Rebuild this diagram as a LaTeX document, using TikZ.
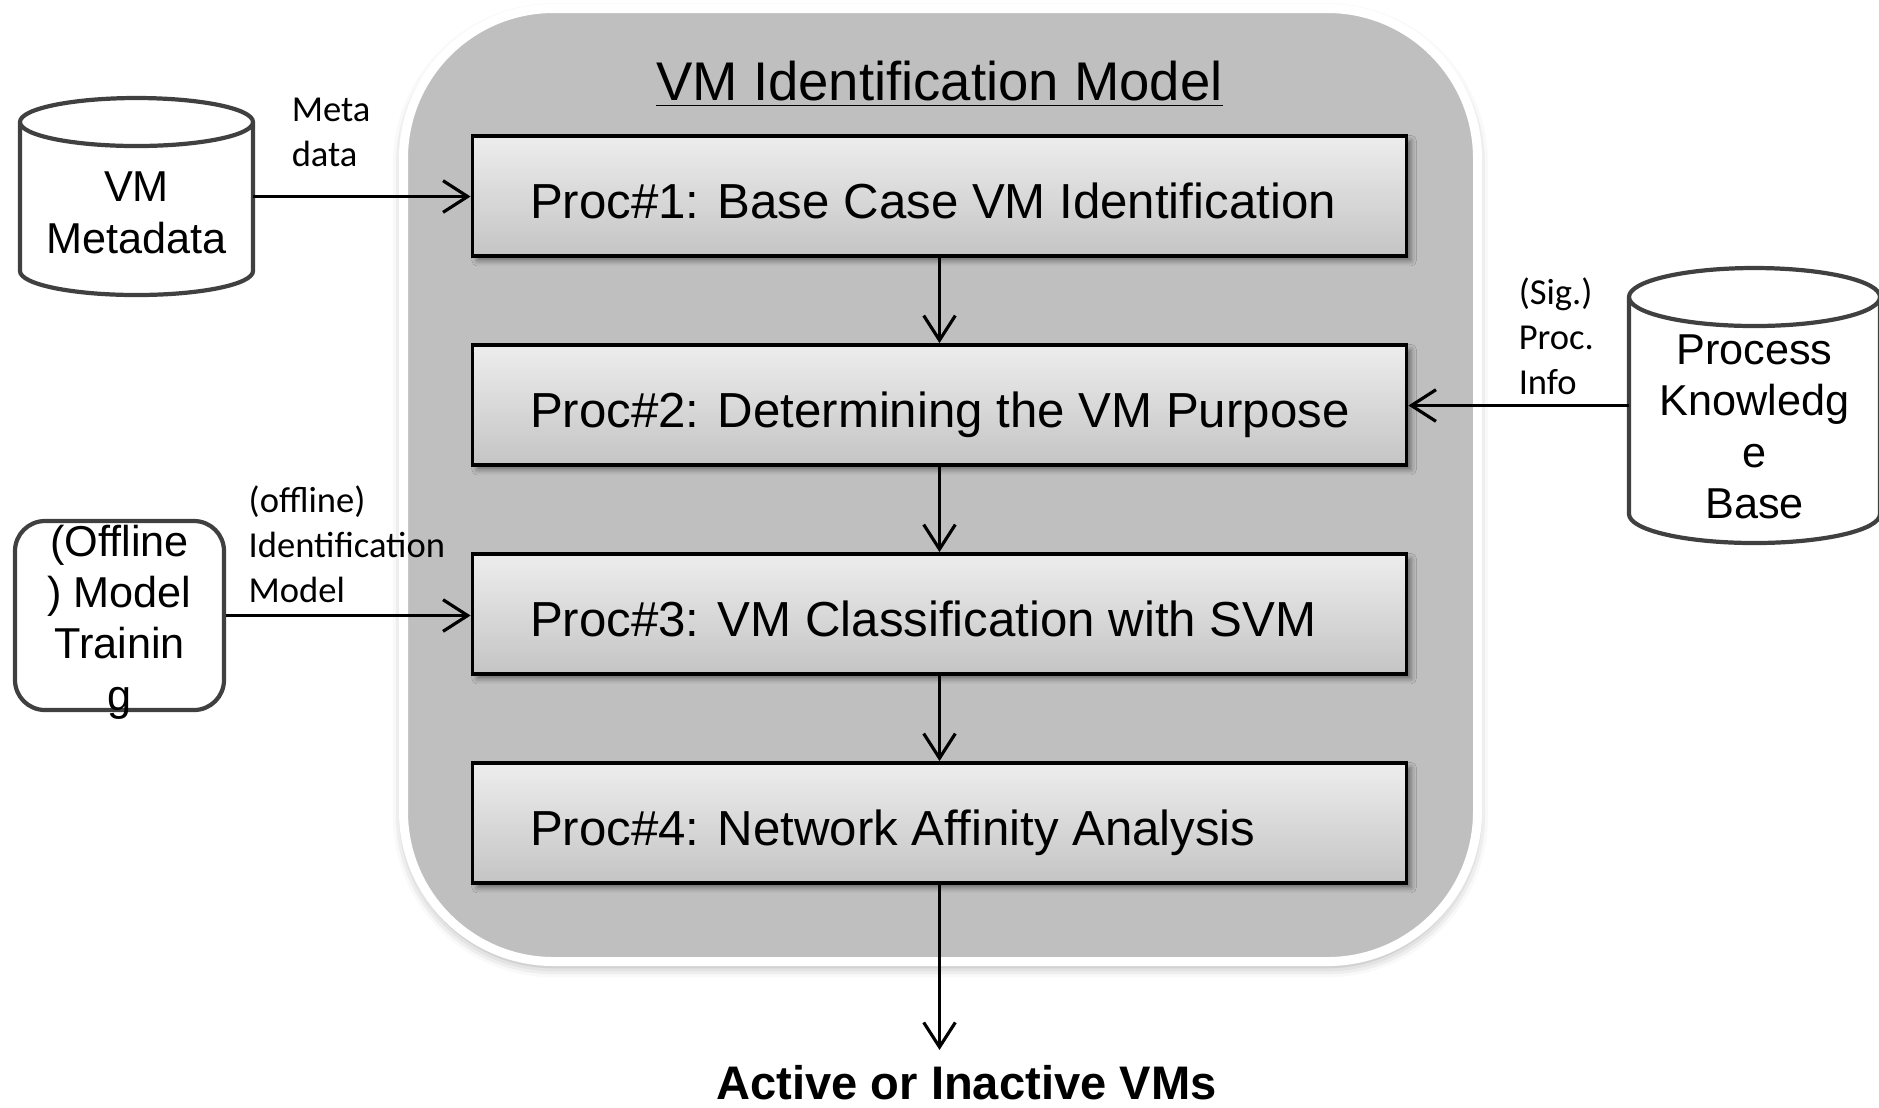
\documentclass[tikz,border=0pt]{standalone}
\usepackage{fontspec}
\setmainfont{Liberation Sans}
\newfontfamily\lblfont{Carlito}
\usetikzlibrary{positioning,arrows.meta,shadows.blur}

\begin{document}
\begin{tikzpicture}[
        proc/.style={draw=black, line width=1.1pt, top color=black!7, bottom color=black!23,
            minimum width=9.34cm, minimum height=1.2cm, inner xsep=0.575cm,
            text height=0.44cm, text depth=0pt, font=\fontsize{14}{17}\selectfont,
            blur shadow={shadow xshift=1.3pt, shadow yshift=-1.3pt, shadow blur radius=1.5pt, shadow opacity=45}},
        store/.style={inner sep=0pt, outer sep=0pt, text depth=0pt, align=center, font=\fontsize{12.3}{14.6}\selectfont},
        dbline/.style={draw=black!75, line width=1.2pt},
        flow/.style={-{Straight Barb[length=7pt, width=9pt]}, line width=0.9pt},
        lbl/.style={font=\lblfont\fontsize{10.4}{12.8}\selectfont, align=left, inner sep=0pt, anchor=south west}
    ]
        \useasboundingbox (0,0) rectangle (18.79,-11.07);

        % model container
        \node[draw=white, line width=0.09cm, fill=black!25, rounded corners=1.5cm,
            minimum width=10.74cm, minimum height=9.53cm,
            blur shadow={shadow xshift=0pt, shadow yshift=-1.5pt, shadow blur radius=3pt, shadow opacity=35}] (model) at (9.405, -4.85) {};

        \foreach \i/\txt in {1/{Proc\#1: Base Case VM Identification},
                             2/{Proc\#2: Determining the VM Purpose},
                             3/{Proc\#3: VM Classification with SVM},
                             4/{Proc\#4: Network Affinity Analysis}}
            \node[proc] (p\i) at (9.395, -1.96-2.09*\i+2.09) {\makebox[8.19cm][l]{\txt}};

        \node[font=\fontsize{15.5}{18}\selectfont, anchor=base, inner sep=0pt] (title) at ([yshift=0.34cm]p1.north) {\underline{VM Identification Model}};

        \foreach \i in {1,2,3}
        {
            \pgfmathtruncatemacro\j{\i+1}
            \draw[flow] (p\i.south) -- (p\j.north);
        }

        % data stores
        \node[store, minimum width=2.33cm, minimum height=1.97cm, text height=1.13cm] (meta) at (1.365, -1.965) {VM\\Metadata};
        \draw[dbline] ([yshift=-0.24cm]meta.north west) -- ([yshift=0.24cm]meta.south west)
            arc[start angle=180, end angle=360, x radius=1.165cm, y radius=0.24cm]
            -- ([yshift=-0.24cm]meta.north east)
            arc[start angle=0, end angle=360, x radius=1.165cm, y radius=0.24cm];

        \node[store, minimum width=2.51cm, minimum height=2.75cm, text height=2.26cm] (pkb) at (17.545, -4.055) {Process\\Knowledg\\e\\Base};
        \draw[dbline] ([yshift=-0.29cm]pkb.north west) -- ([yshift=0.29cm]pkb.south west)
            arc[start angle=180, end angle=360, x radius=1.255cm, y radius=0.29cm]
            -- ([yshift=-0.29cm]pkb.north east)
            arc[start angle=0, end angle=360, x radius=1.255cm, y radius=0.29cm];

        \node[draw=black!75, line width=1.2pt, rounded corners=0.3cm, minimum width=2.09cm, inner sep=0pt,
            text height=1.89cm, text depth=-0.08cm, align=center, font=\fontsize{12.3}{14.6}\selectfont] (train) at (1.195, -6.155) {(Offline\\) Model\\Trainin\\g};

        \draw[flow] (meta.east) -- node[lbl, pos=0.171, yshift=0.28cm] (lmeta) {Meta\\data} (meta.east -| p1.west);
        \draw[flow] (pkb.west) -- node[lbl, pos=0.507, yshift=0.095cm] (lpkb) {(Sig.)\\Proc.\\Info} (pkb.west -| p2.east);
        \draw[flow] (train.east) -- node[lbl, pos=0.086, yshift=0.11cm] (ltrain) {(offline)\\Identification\\Model} (train.east -| p3.west);

        % output
        \coordinate (out) at ([yshift=-1.65cm]p4.south);
        \draw[flow] (p4.south) -- (out);
        \node[font=\bfseries\fontsize{13.4}{16}\selectfont, anchor=base, inner sep=0pt] (result) at ([xshift=0.27cm, yshift=-0.50cm]out) {Active or Inactive VMs};
\end{tikzpicture}
\end{document}
